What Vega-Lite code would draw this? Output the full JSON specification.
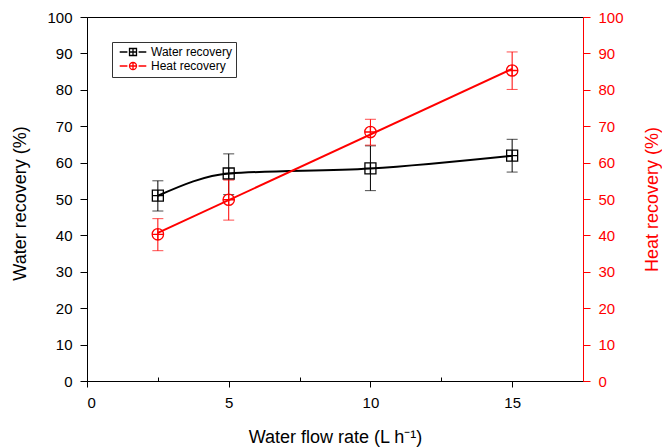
{
  "$schema": "https://vega.github.io/schema/vega-lite/v6.json",
  "width": 496,
  "height": 364,
  "autosize": {"type": "none"},
  "padding": {"left": 87, "top": 17, "right": 79, "bottom": 67},
  "config": {
    "font": "Liberation Sans",
    "view": {"stroke": "black", "strokeWidth": 1},
    "axis": {
      "grid": false,
      "labelFont": "Liberation Sans",
      "titleFont": "Liberation Sans",
      "labelFontSize": 15,
      "titleFontSize": 18,
      "titleFontWeight": "normal",
      "domainWidth": 1,
      "tickWidth": 1
    }
  },
  "datasets": {
    "water": [
      {"x": 2.5, "y": 50.9, "lo": 46.7, "hi": 55.0},
      {"x": 5, "y": 57.0, "lo": 51.2, "hi": 62.4},
      {"x": 10, "y": 58.4, "lo": 52.3, "hi": 64.6},
      {"x": 15, "y": 61.9, "lo": 57.4, "hi": 66.4}
    ],
    "heat": [
      {"x": 2.5, "y": 40.3, "lo": 35.8, "hi": 44.6},
      {"x": 5, "y": 49.8, "lo": 44.2, "hi": 55.2},
      {"x": 10, "y": 68.4, "lo": 64.8, "hi": 71.9},
      {"x": 15, "y": 85.3, "lo": 80.1, "hi": 90.4}
    ]
  },
  "encoding": {
    "x": {
      "field": "x",
      "type": "quantitative",
      "scale": {"domain": [0, 17.5], "nice": false, "zero": false},
      "axis": {
        "title": "Water flow rate (L h⁻¹)",
        "values": [0, 2.5, 5, 7.5, 10, 12.5, 15],
        "labelExpr": "datum.value % 5 === 0 ? datum.label : ''",
        "tickSize": {"condition": {"test": "datum.value % 5 === 0", "value": 6}, "value": -4},
        "domainColor": "black",
        "tickColor": "black",
        "labelColor": "black",
        "titleColor": "black",
        "labelPadding": 8,
        "titleY": 56,
        "titleBaseline": "middle"
      }
    }
  },
  "layer": [
    {
      "data": {"name": "water"},
      "encoding": {
        "y": {
          "field": "y",
          "type": "quantitative",
          "scale": {"domain": [0, 100], "nice": false},
          "axis": {
            "orient": "left",
            "title": "Water recovery (%)",
            "values": [0, 10, 20, 30, 40, 50, 60, 70, 80, 90, 100],
            "tickSize": 7,
            "labelPadding": 8,
            "domainColor": "black",
            "tickColor": "black",
            "labelColor": "black",
            "titleColor": "black",
            "titleX": -67,
            "titleY": 186,
            "titleAngle": 270,
            "titleBaseline": "middle"
          }
        }
      },
      "layer": [
        {"mark": {"type": "line", "interpolate": "monotone", "color": "black", "strokeWidth": 2}},
        {"mark": {"type": "rule", "color": "black", "strokeWidth": 1}, "encoding": {"y": {"field": "lo", "type": "quantitative", "title": "Water recovery (%)"}, "y2": {"field": "hi"}}},
        {"mark": {"type": "tick", "orient": "horizontal", "color": "black", "size": 11, "thickness": 1}, "encoding": {"y": {"field": "lo", "type": "quantitative", "title": "Water recovery (%)"}}},
        {"mark": {"type": "tick", "orient": "horizontal", "color": "black", "size": 11, "thickness": 1}, "encoding": {"y": {"field": "hi", "type": "quantitative", "title": "Water recovery (%)"}}},
        {
          "mark": {"type": "point", "filled": false, "color": "black", "strokeWidth": 1.3, "size": 121, "opacity": 1,
            "shape": "M-1,-1H1V1H-1ZM-1,0H1M0,-1V1"}
        },
        {
          "mark": {"type": "point", "filled": false, "opacity": 0, "strokeWidth": 1.3},
          "encoding": {
            "color": {
              "datum": "Water recovery",
              "type": "nominal",
              "scale": {"domain": ["Water recovery", "Heat recovery"], "range": ["black", "red"]},
              "legend": {
                "title": null,
                "orient": "none",
                "legendX": 25,
                "legendY": 25,
                "padding": 4,
                "strokeColor": "#333333",
                "fillColor": "white",
                "labelFont": "Liberation Sans",
                "labelFontSize": 12,
                "labelColor": "black",
                "symbolSize": 49,
                "symbolStrokeWidth": 1.3,
                "symbolOpacity": 1,
                "symbolOffset": 11,
                "labelOffset": 12,
                "rowPadding": 0
              }
            },
            "shape": {
              "datum": "Water recovery",
              "type": "nominal",
              "scale": {
                "domain": ["Water recovery", "Heat recovery"],
                "range": [
                  "M-3.8,0H-1.6M-1,-1H1V1H-1ZM-1,0H1M0,-1V1M1.6,0H3.8",
                  "M-3.8,0H-1.6M-1,0A1,1,0,1,1,1,0A1,1,0,1,1,-1,0ZM-1,0H1M0,-1V1M1.6,0H3.8"
                ]
              }
            }
          }
        }
      ]
    },
    {
      "data": {"name": "heat"},
      "encoding": {
        "y": {
          "field": "y",
          "type": "quantitative",
          "scale": {"domain": [0, 100], "nice": false},
          "axis": {
            "orient": "right",
            "title": "Heat recovery (%)",
            "values": [0, 10, 20, 30, 40, 50, 60, 70, 80, 90, 100],
            "tickSize": 7,
            "labelPadding": 8,
            "domainColor": "red",
            "tickColor": "red",
            "labelColor": "red",
            "titleColor": "red",
            "titleX": 69,
            "titleY": 182,
            "titleAngle": 270,
            "titleBaseline": "middle"
          }
        }
      },
      "layer": [
        {"transform": [{"regression": "y", "on": "x"}], "mark": {"type": "line", "color": "red", "strokeWidth": 2}},
        {"mark": {"type": "rule", "color": "red", "strokeWidth": 1}, "encoding": {"y": {"field": "lo", "type": "quantitative", "title": "Heat recovery (%)"}, "y2": {"field": "hi"}}},
        {"mark": {"type": "tick", "orient": "horizontal", "color": "red", "size": 11, "thickness": 1}, "encoding": {"y": {"field": "lo", "type": "quantitative", "title": "Heat recovery (%)"}}},
        {"mark": {"type": "tick", "orient": "horizontal", "color": "red", "size": 11, "thickness": 1}, "encoding": {"y": {"field": "hi", "type": "quantitative", "title": "Heat recovery (%)"}}},
        {
          "mark": {"type": "point", "filled": false, "color": "red", "strokeWidth": 1.3, "size": 130, "opacity": 1,
            "shape": "M-1,0A1,1,0,1,1,1,0A1,1,0,1,1,-1,0ZM-1,0H1M0,-1V1"}
        },
        {
          "mark": {"type": "point", "filled": false, "opacity": 0, "strokeWidth": 1.3},
          "encoding": {
            "color": {"datum": "Heat recovery", "type": "nominal"},
            "shape": {"datum": "Heat recovery", "type": "nominal"}
          }
        }
      ]
    }
  ],
  "resolve": {"scale": {"y": "independent"}}
}
